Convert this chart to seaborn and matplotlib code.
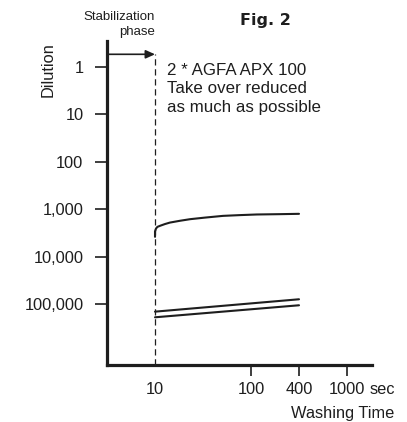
import matplotlib
matplotlib.use("Agg")
import matplotlib.pyplot as plt
import seaborn as sns
import pandas as pd
from matplotlib.ticker import NullLocator

# ---------------- data ----------------
curve_a_time = [10, 10, 10.24, 10.6, 11.3, 12.7, 14.3, 18.2, 23.2, 33.2, 51, 76.7, 115, 200, 316]
curve_a_dilution = [3810, 2940, 2550, 2350, 2230, 2050, 1910, 1750, 1620, 1500, 1380, 1330, 1290, 1270, 1250]
curve_b_time = [10, 316]
curve_b_dilution = [143000, 78500]
curve_c_time = [10, 316]
curve_c_dilution = [188000, 105000]

ytick_values = [1, 10, 100, 1000, 10000, 100000]
ytick_labels = ["1", "10", "100", "1,000", "10,000", "100,000"]
xtick_values = [10, 100, 316, 1000]
xtick_labels = ["10", "100", "400", "1000"]
stabilization_end = 10

# ---------------- styling ----------------
sns.set_style("ticks")
plt.rcParams["font.family"] = ["Liberation Sans", "DejaVu Sans"]
INK = "#1e1e1e"

W, H = 407, 422
fig = plt.figure(figsize=(W / 100, H / 100), dpi=100)
ax = fig.add_axes([107 / W, (H - 365) / H, (372 - 107) / W, (365 - 41) / H])

def px(x, y):
    return x / W, 1 - y / H

df = pd.concat([
    pd.DataFrame({"time": curve_a_time, "dilution": curve_a_dilution, "series": "a"}),
    pd.DataFrame({"time": curve_b_time, "dilution": curve_b_dilution, "series": "b"}),
    pd.DataFrame({"time": curve_c_time, "dilution": curve_c_dilution, "series": "c"}),
], ignore_index=True)

sns.lineplot(data=df, x="time", y="dilution", units="series", estimator=None,
             sort=False, color=INK, lw=1.5, ax=ax, legend=False)

ax.set_xscale("log")
ax.set_yscale("log")
ax.set_xlim(10 ** 0.5, 10 ** 3.26)
ax.set_ylim(10 ** 6.278, 10 ** -0.54)

ax.xaxis.set_minor_locator(NullLocator())
ax.yaxis.set_minor_locator(NullLocator())
ax.set_yticks(ytick_values)
ax.set_yticklabels(ytick_labels)
ax.set_xticks(xtick_values)
ax.set_xticklabels(xtick_labels)
ax.set_xlabel("")
ax.set_ylabel("")

for s in ["top", "right"]:
    ax.spines[s].set_visible(False)
for s in ["left", "bottom"]:
    ax.spines[s].set_linewidth(2.3)
    ax.spines[s].set_color(INK)

ax.tick_params(axis="y", length=8.5, width=1.2, color=INK, pad=8.5,
               labelsize=11.8, labelcolor=INK)
ax.tick_params(axis="x", length=8, width=1.2, color=INK, pad=4,
               labelsize=11.8, labelcolor=INK)
ax.xaxis.get_major_ticks()[0].tick1line.set_visible(False)

# dashed line marking end of stabilization phase
arrow_frac = (365 - 54.3) / (365 - 41)
ax.axvline(stabilization_end, ymin=0, ymax=arrow_frac, color=INK, lw=0.9,
           ls=(0, (5, 3)))
ax.annotate("", xy=(stabilization_end, arrow_frac), xycoords=("data", "axes fraction"),
            xytext=(0, arrow_frac), textcoords="axes fraction",
            arrowprops=dict(arrowstyle="-|>,head_length=0.55,head_width=0.25",
                            color=INK, lw=1.2, shrinkA=0, shrinkB=0))

# texts
fig.text(*px(155, 20), "Stabilization", ha="right", va="baseline", fontsize=9.5, color=INK)
fig.text(*px(155, 35), "phase", ha="right", va="baseline", fontsize=9.5, color=INK)
fig.text(*px(240, 25), "Fig. 2", ha="left", va="baseline", fontsize=11.5,
         fontweight="heavy", family="DejaVu Sans", color=INK)
fig.text(*px(167, 75), "2 * AGFA APX 100", ha="left", va="baseline", fontsize=12.2, color=INK)
fig.text(*px(167, 93.3), "Take over reduced", ha="left", va="baseline", fontsize=12.2, color=INK)
fig.text(*px(167, 111.7), "as much as possible", ha="left", va="baseline", fontsize=12.2, color=INK)
fig.text(*px(52.7, 70), "Dilution", rotation=90, rotation_mode="anchor", ha="center",
         va="baseline", fontsize=11.8, color=INK)
fig.text(*px(394, 418.3), "Washing Time", ha="right", va="baseline", fontsize=11.8, color=INK)
fig.text(*px(370, 393.5), "sec", ha="left", va="baseline", fontsize=11.8, color=INK)

fig.savefig("out.png", dpi=100)
